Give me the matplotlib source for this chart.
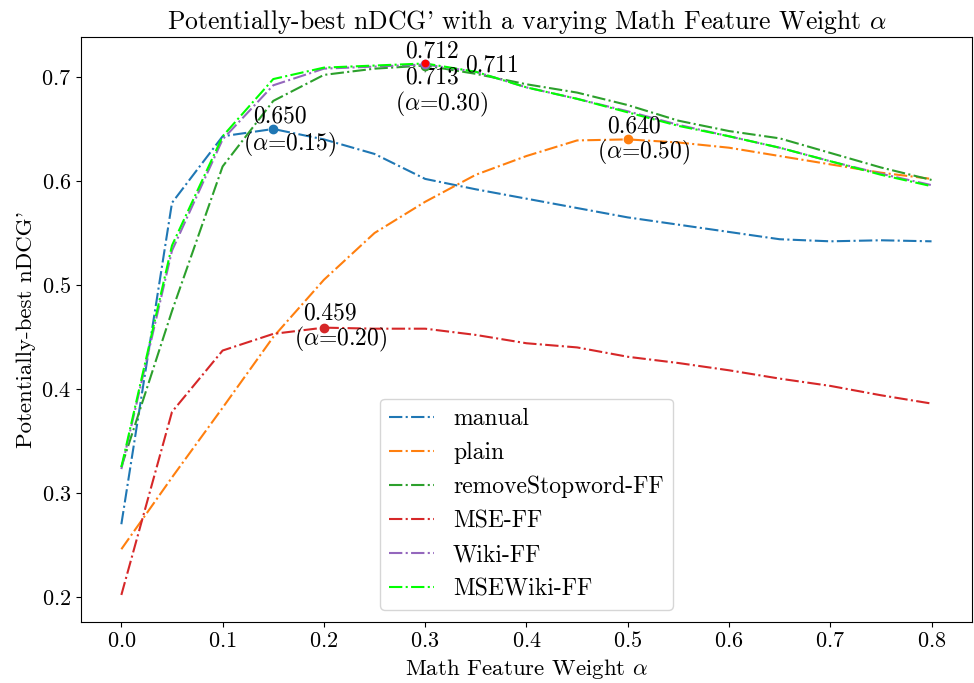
import numpy as np
import matplotlib
matplotlib.use('Agg')
from matplotlib import pyplot as plt

plt.rcParams['font.family'] = 'serif'
plt.rcParams['font.serif'] = ['cmr10']
plt.rcParams['mathtext.fontset'] = 'cm'
plt.rcParams['axes.formatter.use_mathtext'] = True
plt.rcParams['axes.unicode_minus'] = False

# math feature weight alpha
alphas = [0.0, 0.05, 0.1, 0.15, 0.2, 0.25, 0.3, 0.35, 0.4,
          0.45, 0.5, 0.55, 0.6, 0.65, 0.7, 0.75, 0.8]

manual = [0.270, 0.579, 0.643, 0.650, 0.640, 0.626, 0.602, 0.592, 0.583,
          0.574, 0.565, 0.558, 0.551, 0.544, 0.542, 0.543, 0.542]
plain = [0.246, 0.315, 0.382, 0.450, 0.505, 0.550, 0.580, 0.606, 0.624,
         0.639, 0.640, 0.637, 0.632, 0.624, 0.616, 0.608, 0.602]
remove_sw = [0.325, 0.475, 0.614, 0.677, 0.702, 0.708, 0.711, 0.703, 0.693,
             0.685, 0.673, 0.658, 0.648, 0.641, 0.627, 0.613, 0.601]
mse_ff = [0.202, 0.378, 0.437, 0.453, 0.459, 0.458, 0.458, 0.452, 0.444,
          0.440, 0.431, 0.425, 0.418, 0.410, 0.403, 0.394, 0.386]
wiki_ff = [0.323, 0.533, 0.640, 0.692, 0.708, 0.710, 0.712, 0.705, 0.690,
           0.679, 0.667, 0.654, 0.643, 0.632, 0.619, 0.607, 0.596]
msewiki_ff = [0.325, 0.538, 0.643, 0.698, 0.709, 0.711, 0.713, 0.705, 0.690,
              0.679, 0.666, 0.653, 0.643, 0.632, 0.619, 0.606, 0.595]

names = ['manual', 'plain', 'removeStopword-FF', 'MSE-FF', 'Wiki-FF', 'MSEWiki-FF']
series = [manual, plain, remove_sw, mse_ff, wiki_ff, msewiki_ff]
colors = ['tab:blue', 'tab:orange', 'tab:green', 'tab:red', 'tab:purple', 'lime']
dot_colors = ['tab:blue', 'tab:orange', 'tab:green', 'tab:red', 'tab:purple', 'red']

fig, ax = plt.subplots(figsize=(9.74, 6.83), dpi=100)
fig.subplots_adjust(left=0.083, right=0.998, bottom=0.09, top=0.946)

for name, ys, c in zip(names, series, colors):
    ax.plot(alphas, ys, '-.', color=c, lw=1.5, label=name)

# mark the best point of every run
# (value label offset, alpha label offset) in pixels, None = no label
offsets = [((7, 13), (16, -15)),
           ((6, 13), (16, -13)),
           ((67, 0), None),
           ((6, 14), (17, -12)),
           ((7, 13), None),
           ((7, -14), (17, -41))]
for ys, dc, (voff, aoff) in zip(series, dot_colors, offsets):
    i = int(np.argmax(ys))
    x, y = alphas[i], ys[i]
    ax.plot(x, y, 'o', color=dc, ms=6 if dc != 'red' else 4.5, zorder=5)
    ax.annotate('%.3f' % y, (x, y), xytext=voff, textcoords='offset pixels',
                ha='center', va='center', fontsize=17)
    if aoff is not None:
        ax.annotate(r'($\alpha$=%.2f)' % x, (x, y), xytext=aoff,
                    textcoords='offset pixels', ha='center', va='center', fontsize=17)

ax.set_xticks(np.arange(0, 0.81, 0.1))
ax.tick_params(labelsize=16)
ax.set_xlabel(r'Math Feature Weight $\alpha$', fontsize=16.5)
ax.set_ylabel("Potentially-best nDCG'", fontsize=16.5)
ax.set_title(r"Potentially-best nDCG' with a varying Math Feature Weight $\alpha$", fontsize=18.5)
ax.legend(loc='lower center', fontsize=17, handlelength=1.9)

plt.savefig('out.png', dpi=100)
